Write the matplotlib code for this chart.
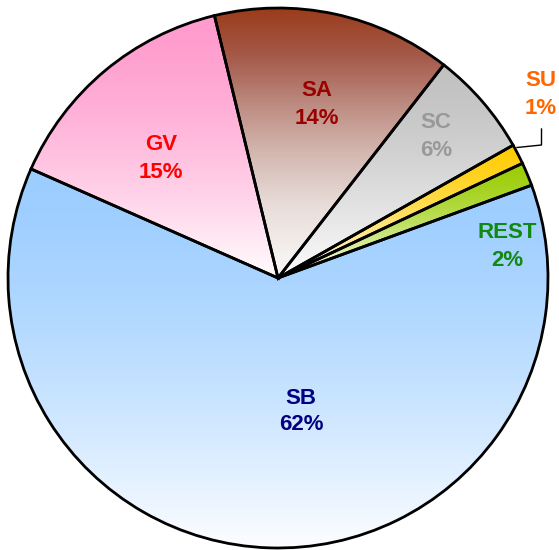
import matplotlib.pyplot as plt
import numpy as np
from matplotlib.colors import LinearSegmentedColormap, to_rgb

# wedge order counterclockwise starting at the right
labels = ['REST', 'SU', 'SC', 'SA', 'GV', 'SB']
values = [1.4, 1.2, 6.3, 14.3, 14.6, 62.2]
shown = ['2%', '1%', '6%', '14%', '15%', '62%']
top_colors = ['#99cc00', '#ffcc00', '#c0c0c0', '#993300', '#ff99cc', '#99ccff']
text_colors = ['#118811', '#ff6600', '#999999', '#990000', '#ff0000', '#000080']

plt.rcParams['font.family'] = ['Liberation Sans', 'DejaVu Sans']

W, H = 559, 550
fig = plt.figure(figsize=(W / 100, H / 100), dpi=100)
ax = fig.add_axes([0, 0, 1, 1])

cx, cy, r = 278, H - 278, 270
wedges, _ = ax.pie(values, center=(cx, cy), radius=r, startangle=20.1,
                   counterclock=True, frame=False,
                   wedgeprops=dict(edgecolor='black', linewidth=2, facecolor='none'))
ax.set_xlim(0, W)
ax.set_ylim(0, H)
ax.set_aspect('equal')
ax.axis('off')


def fade_cmap(c):
    # colour holds for a while at the top, then fades to white
    c = np.array(to_rgb(c))
    stops = []
    for f in np.linspace(0, 1, 11):
        s = 0.02 + 0.96 * f ** 1.5
        stops.append((1 - f, c + (1 - c) * s))
    stops.sort(key=lambda t: t[0])
    return LinearSegmentedColormap.from_list('g', stops)


# SA fades through a dusty pink rather than orange
sa_stops = [(0.0, '#f7f5f3'), (0.08, '#f5f2f0'), (0.27, '#e8dcd8'),
            (0.47, '#d2b5ae'), (0.62, '#bf8f85'), (0.81, '#a55a4a'),
            (1.0, '#993a18')]

for w, lab, c in zip(wedges, labels, top_colors):
    verts = w.get_path().vertices
    x0, x1 = verts[:, 0].min(), verts[:, 0].max()
    y0, y1 = verts[:, 1].min(), verts[:, 1].max()
    if lab == 'SA':
        cmap = LinearSegmentedColormap.from_list('sa', sa_stops)
    else:
        cmap = fade_cmap(c)
    grad = np.linspace(0, 1, 256).reshape(-1, 1)
    im = ax.imshow(grad, cmap=cmap, vmin=0, vmax=1, origin='lower',
                   extent=(x0, x1, y0, y1), aspect='auto', zorder=1,
                   interpolation='bilinear')
    im.set_clip_path(w)
    w.set_zorder(2)

# label positions in pixels from top-left: (x, name y, percent y)
label_pos = {'REST': (507, 232, 260), 'SU': (541, 81, 108),
             'SC': (436, 123, 151), 'SA': (317, 90, 118),
             'GV': (161, 145, 172), 'SB': (301, 398, 425)}
for lab, pct, tc in zip(labels, shown, text_colors):
    px, py1, py2 = label_pos[lab]
    ax.text(px, H - py1, lab, color=tc, fontsize=16, fontweight='bold',
            ha='center', va='center', zorder=3)
    ax.text(px, H - py2, pct, color=tc, fontsize=16, fontweight='bold',
            ha='center', va='center', zorder=3)

# leader line for SU
ax.plot([541.5, 541.5, 517], [H - 129, H - 145, H - 147.5], color='black',
        linewidth=1, zorder=3)

fig.savefig('out.png', dpi=100)
